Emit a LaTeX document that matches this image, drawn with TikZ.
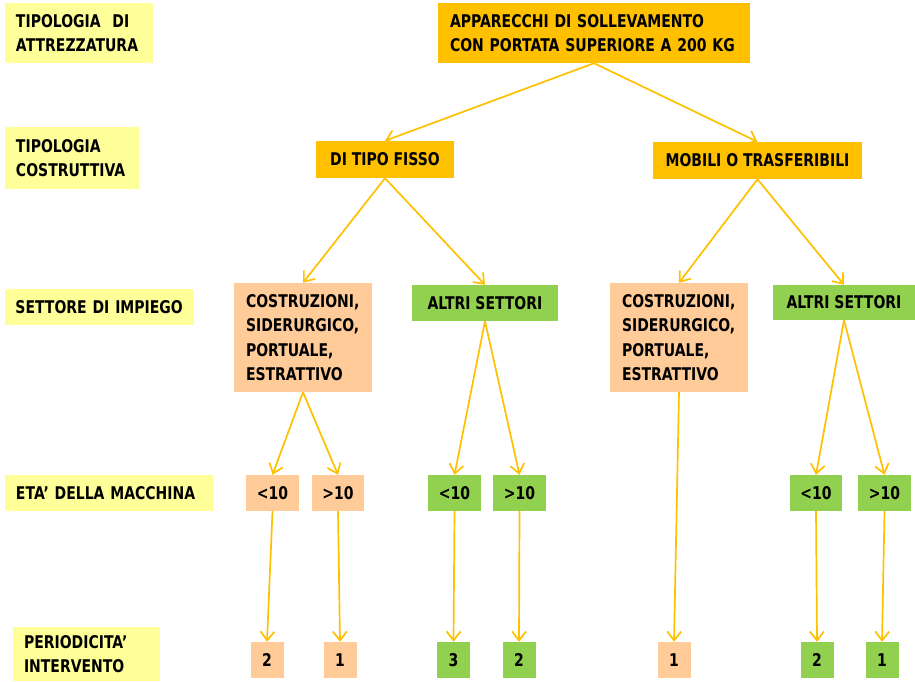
\documentclass[tikz,border=0pt]{standalone}
\usepackage{fontspec}
\setmainfont{DejaVu Sans}[FakeStretch=0.8]
\usetikzlibrary{arrows.meta}
\definecolor{labY}{HTML}{FFFF99}
\definecolor{gold}{HTML}{FFC000}
\definecolor{peach}{HTML}{FFCC99}
\definecolor{grn}{HTML}{92D050}
\tikzset{
  box/.style={inner sep=0pt, font=\bfseries\fontsize{17.5}{24.5}\selectfont},
  lab/.style={box, fill=labY, align=left},
  goldbox/.style={box, fill=gold},
  peachbox/.style={box, fill=peach},
  greenbox/.style={box, fill=grn},
  arr/.style={draw=gold, line width=1.7pt, -{Straight Barb[length=9pt,width=14pt,line width=1.7pt]}}
}
\begin{document}
\begin{tikzpicture}[x=1pt,y=-1pt]
\useasboundingbox (0,0) rectangle (915,681);
% row labels
\node[lab, minimum width=148pt, minimum height=60pt, text width=126pt] (l1) at (79,33) {TIPOLOGIA~~DI\\ATTREZZATURA};
\node[lab, minimum width=134pt, minimum height=62pt, text width=112pt] (l2) at (72,158) {TIPOLOGIA\\COSTRUTTIVA};
\node[lab, minimum width=189pt, minimum height=36pt, text width=178pt] (l3) at (99.5,307) {\hspace*{5pt}SETTORE DI IMPIEGO};
\node[lab, minimum width=208pt, minimum height=36pt, text width=186pt] (l4) at (109,493) {ETA' DELLA MACCHINA};
\node[lab, minimum width=147pt, minimum height=54pt, text width=125pt] (l5) at (86.5,654) {PERIODICITA'\\INTERVENTO};
% tree
\node[goldbox, align=left, minimum width=312pt, minimum height=60pt, text width=298pt] (top) at (594,33) {\hspace*{5pt}APPARECCHI DI SOLLEVAMENTO\\\hspace*{5pt}CON PORTATA SUPERIORE A 200 KG};
\node[goldbox, minimum width=138pt, minimum height=37pt] (fisso) at (385,159.5) {DI TIPO FISSO};
\node[goldbox, minimum width=209pt, minimum height=37pt] (mob) at (757.5,160.5) {MOBILI O TRASFERIBILI};
\node[peachbox, align=left, minimum width=138pt, minimum height=109pt, text width=114pt] (cL) at (303,337.5) {COSTRUZIONI,\\SIDERURGICO,\\PORTUALE,\\ESTRATTIVO};
\node[greenbox, minimum width=146pt, minimum height=36pt] (aL) at (485,303) {ALTRI SETTORI};
\node[peachbox, align=left, minimum width=138pt, minimum height=109pt, text width=114pt] (cR) at (679,337.5) {COSTRUZIONI,\\SIDERURGICO,\\PORTUALE,\\ESTRATTIVO};
\node[greenbox, minimum width=142pt, minimum height=35pt] (aR) at (844,302.5) {ALTRI SETTORI};
% ages
\node[peachbox, minimum width=53pt, minimum height=36pt] (e1) at (272.5,493) {<10};
\node[peachbox, minimum width=52pt, minimum height=36pt] (e2) at (338,493) {>10};
\node[greenbox, minimum width=53pt, minimum height=36pt] (e3) at (454.5,493) {<10};
\node[greenbox, minimum width=53pt, minimum height=36pt] (e4) at (519.5,493) {>10};
\node[greenbox, minimum width=52pt, minimum height=36pt] (e5) at (816,493) {<10};
\node[greenbox, minimum width=53pt, minimum height=36pt] (e6) at (884.5,493) {>10};
% periods
\node[peachbox, minimum width=33pt, minimum height=36pt] (p1) at (267,660) {2};
\node[peachbox, minimum width=33pt, minimum height=36pt] (p2) at (340,660) {1};
\node[greenbox, minimum width=33pt, minimum height=36pt] (p3) at (453.5,660) {3};
\node[greenbox, minimum width=33pt, minimum height=36pt] (p4) at (519,660) {2};
\node[peachbox, minimum width=33pt, minimum height=36pt] (p5) at (674,660) {1};
\node[greenbox, minimum width=33pt, minimum height=36pt] (p6) at (817,660) {2};
\node[greenbox, minimum width=33pt, minimum height=36pt] (p7) at (882,660) {1};
% connectors
\draw[arr] (top.south) -- (fisso.north);
\draw[arr] (top.south) -- (mob.north);
\draw[arr] (fisso.south) -- (cL.north);
\draw[arr] (fisso.south) -- (aL.north);
\draw[arr] (mob.south) -- (cR.north);
\draw[arr] (mob.south) -- (aR.north);
\draw[arr] (cL.south) -- (e1.north);
\draw[arr] (cL.south) -- (e2.north);
\draw[arr] (aL.south) -- (e3.north);
\draw[arr] (aL.south) -- (e4.north);
\draw[arr] (cR.south) -- (p5.north);
\draw[arr] (aR.south) -- (e5.north);
\draw[arr] (aR.south) -- (e6.north);
\draw[arr] (e1.south) -- (p1.north);
\draw[arr] (e2.south) -- (p2.north);
\draw[arr] (e3.south) -- (p3.north);
\draw[arr] (e4.south) -- (p4.north);
\draw[arr] (e5.south) -- (p6.north);
\draw[arr] (e6.south) -- (p7.north);
\end{tikzpicture}
\end{document}
